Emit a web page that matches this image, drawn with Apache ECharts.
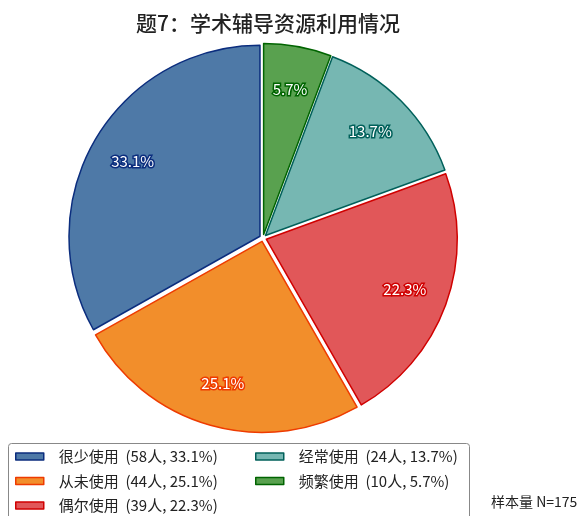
<!DOCTYPE html>
<html>
<head>
<meta charset="utf-8">
<script src="https://cdn.jsdelivr.net/npm/echarts@6/dist/echarts.min.js"></script>
<style>
html, body { margin: 0; padding: 0; background: #fff; }
#container { width: 586px; height: 516px; }
</style>
</head>
<body>
<div id="container"></div>
<script>
var names = ['很少使用', '从未使用', '偶尔使用', '经常使用', '频繁使用'];
var counts = [58, 44, 39, 24, 10];
var pcts = [33.1, 25.1, 22.3, 13.7, 5.7];
var fills = ['#4e79a7', '#f28e2b', '#e15759', '#76b7b2', '#59a14f'];
var edges = ['#0b2d7e', '#ee3b00', '#d00000', '#00605a', '#006400'];
var sampleSize = 175;

var font = 'Noto Sans CJK SC';
var myChart = echarts.init(document.getElementById('container'));

var mainData = [], labelData = [], legendItems = [];
for (var i = 0; i < names.length; i++) {
    mainData.push({
        name: names[i],
        value: counts[i],
        selected: true,
        itemStyle: {color: fills[i], borderColor: edges[i], borderWidth: 1.5}
    });
    labelData.push({
        name: names[i],
        value: counts[i],
        label: {textBorderColor: edges[i]}
    });
    legendItems.push({
        name: names[i],
        itemStyle: {color: fills[i], borderColor: edges[i], borderWidth: 1.5}
    });
}

function legendText(name) {
    var k = names.indexOf(name);
    return name + '  (' + counts[k] + '人, ' + pcts[k] + '%)';
}

var legendBase = {
    orient: 'vertical',
    icon: 'rect',
    itemWidth: 28,
    itemHeight: 7,
    itemGap: 9.5,
    padding: 0,
    selectedMode: false,
    formatter: legendText,
    textStyle: {fontFamily: font, fontSize: 15, color: '#222', padding: [0, 0, 0, 10]}
};

option = {
    animation: false,
    title: {
        text: '题7：学术辅导资源利用情况',
        left: 131,
        top: 8,
        textStyle: {fontFamily: font, fontSize: 21, fontWeight: 500, color: '#222'}
    },
    legend: [
        Object.assign({}, legendBase, {left: 15, top: 449, data: legendItems.slice(0, 3)}),
        Object.assign({}, legendBase, {left: 255, top: 449, data: legendItems.slice(3)})
    ],
    graphic: [
        {
            type: 'rect',
            shape: {x: 8.5, y: 443.5, width: 461, height: 90, r: 3},
            style: {fill: 'none', stroke: '#888', lineWidth: 1},
            z: -1
        },
        {
            type: 'text',
            left: 491,
            top: 495,
            style: {text: '样本量 N=' + sampleSize, font: '14px "' + font + '"', fill: '#222'}
        }
    ],
    series: [
        {
            type: 'pie',
            center: [263, 238],
            radius: 191,
            startAngle: 90,
            clockwise: false,
            selectedMode: 'multiple',
            selectedOffset: 3.5,
            label: {show: false},
            labelLine: {show: false},
            emphasis: {disabled: true},
            data: mainData
        },
        {
            type: 'pie',
            center: [263, 238],
            radius: [104, 192],
            startAngle: 90,
            clockwise: false,
            silent: true,
            itemStyle: {color: 'rgba(0,0,0,0)'},
            label: {
                show: true,
                position: 'inside',
                fontFamily: font,
                fontSize: 15,
                color: '#fff',
                textBorderWidth: 3,
                formatter: function (p) { return pcts[p.dataIndex] + '%'; }
            },
            labelLine: {show: false},
            emphasis: {disabled: true},
            data: labelData
        }
    ]
};

if (option && typeof option === "object") {
    myChart.setOption(option, true);
}
</script>
</body>
</html>
